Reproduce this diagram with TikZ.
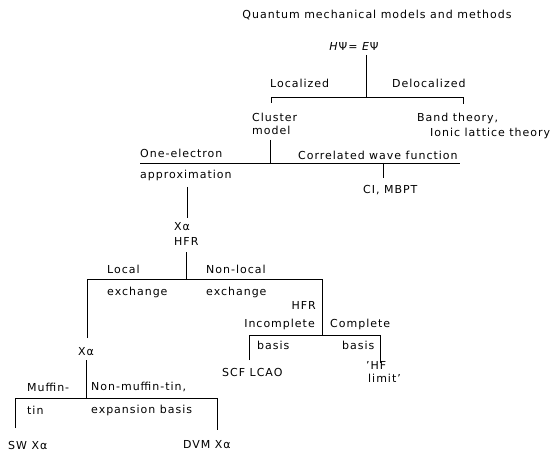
\documentclass[tikz,border=0pt]{standalone}
\usepackage{fontspec}
\setmainfont{DejaVu Sans}[LetterSpace=9]
\begin{document}
\begin{tikzpicture}[x=1pt,y=-1pt,
  lbl/.style={inner sep=0pt,anchor=west,font=\fontsize{11}{13}\selectfont},
  ln/.style={line width=0.9pt,line join=miter}]
\useasboundingbox (0,0) rectangle (558,452);
% texts
\node[lbl,anchor=center] (title) at (377,15) {Quantum mechanical models and methods};
\node[lbl,anchor=center] (eq) at (354,46) {\textit{H}Ψ= \textit{E}Ψ};
\node[lbl] (loc) at (270,83) {Localized};
\node[lbl] (deloc) at (392,83) {Delocalized};
\node[lbl] (cluster) at (252,117) {Cluster};
\node[lbl] (model) at (252,130) {model};
\node[lbl] (band) at (417,118) {Band theory,};
\node[lbl] (ionic) at (430,133) {Ionic lattice theory};
\node[lbl] (oneel) at (140,153) {One-electron};
\node[lbl] (corr) at (298,155) {Correlated wave function};
\node[lbl] (approx) at (140,175) {approximation};
\node[lbl] (ci) at (363,190) {CI, MBPT};
\node[lbl] (xa1) at (174,227) {Xα};
\node[lbl] (hfr1) at (174,241) {HFR};
\node[lbl] (local) at (107,269) {Local};
\node[lbl] (nonlocal) at (206,269) {Non-local};
\node[lbl] (exch1) at (107,292) {exchange};
\node[lbl] (exch2) at (206,292) {exchange};
\node[lbl,anchor=east] (hfr2) at (316,305) {HFR};
\node[lbl,anchor=east] (incomp) at (315,324) {Incomplete};
\node[lbl] (comp) at (330,324) {Complete};
\node[lbl] (basis1) at (257,345) {basis};
\node[lbl] (basis2) at (342,345) {basis};
\node[lbl] (scf) at (222,372) {SCF LCAO};
\node[lbl] (hf) at (366,365) {'HF};
\node[lbl] (limit) at (368,378) {limit'};
\node[lbl] (xa2) at (78,352) {Xα};
\node[lbl] (muffin) at (27,387) {Muffin-};
\node[lbl] (nonmuffin) at (91,387) {Non-muffin-tin,};
\node[lbl] (tin) at (27,410) {tin};
\node[lbl] (expb) at (91,410) {expansion basis};
\node[lbl] (sw) at (8,445) {SW Xα};
\node[lbl] (dvm) at (183,445) {DVM Xα};
% junction coordinates
\coordinate (eqb) at (366,55);
\coordinate (j1) at (366,97);
\coordinate (j1l) at (271,97);
\coordinate (j1r) at (463,97);
\coordinate (clt) at (271,103);
\coordinate (bdt) at (463,104);
\coordinate (mdb) at (270,140);
\coordinate (j2m) at (270,163);
\coordinate (j2l) at (140,163);
\coordinate (j2r) at (460,163);
\coordinate (j2c) at (383,163);
\coordinate (cit) at (383,178);
\coordinate (apb) at (187,187);
\coordinate (xat) at (187,218);
\coordinate (hfb) at (186,252);
\coordinate (j3) at (186,279);
\coordinate (j3l) at (87,279);
\coordinate (j3r) at (322,279);
\coordinate (xa2t) at (87,338);
\coordinate (j4) at (322,335);
\coordinate (j4l) at (249,335);
\coordinate (j4r) at (380,335);
\coordinate (scft) at (249,360);
\coordinate (hft) at (380,363);
\coordinate (xa2b) at (86,360);
\coordinate (j5) at (86,398);
\coordinate (j5l) at (15,398);
\coordinate (j5r) at (217,398);
\coordinate (swt) at (15,428);
\coordinate (dvmt) at (217,430);
% connectors
\draw[ln] (eqb) -- (j1);
\draw[ln] (clt) -- (j1l) -- (j1r) -- (bdt);
\draw[ln] (mdb) -- (j2m);
\draw[ln] (j2l) -- (j2r);
\draw[ln] (j2c) -- (cit);
\draw[ln] (apb) -- (xat);
\draw[ln] (hfb) -- (j3);
\draw[ln] (xa2t) -- (j3l) -- (j3r) -- (j4);
\draw[ln] (scft) -- (j4l) -- (j4r) -- (hft);
\draw[ln] (xa2b) -- (j5);
\draw[ln] (swt) -- (j5l) -- (j5r) -- (dvmt);
\end{tikzpicture}
\end{document}
